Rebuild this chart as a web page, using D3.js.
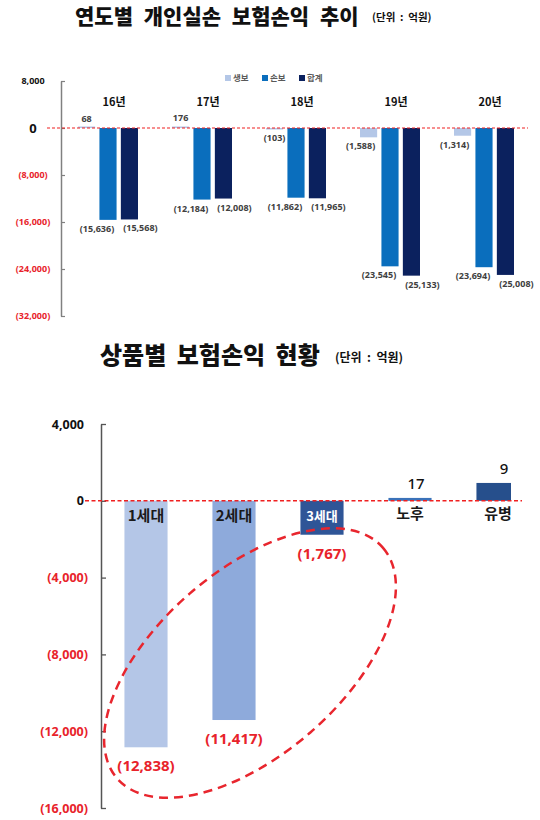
<!DOCTYPE html>
<html>
<head>
<meta charset="utf-8">
<script src="https://cdn.jsdelivr.net/npm/d3@7"></script>
<style>
  html, body { margin: 0; padding: 0; background: #ffffff; }
  svg { display: block; font-family: "Noto Sans CJK KR", "Noto Sans", sans-serif; }
</style>
</head>
<body>
<svg id="chart" width="540" height="820"></svg>
<script>
// ---------- Data: chart 1 (연도별 개인실손 보험손익 추이) ----------
const years = ["16년", "17년", "18년", "19년", "20년"];
const seriesNames = ["생보", "손보", "합계"];
const lifeValues = [68, 176, -103, -1588, -1314];           // 생보
const nonLifeValues = [-15636, -12184, -11862, -23545, -23694]; // 손보
const totalValues = [-15568, -12008, -11965, -25133, -25008];   // 합계
const yearTicks = [8000, 0, -8000, -16000, -24000, -32000];

// ---------- Data: chart 2 (상품별 보험손익 현황) ----------
const products = ["1세대", "2세대", "3세대", "노후", "유병"];
const productValues = [-12838, -11417, -1767, 150, 930];  // bar heights as drawn
const productLabels = ["(12,838)", "(11,417)", "(1,767)", "17", "9"]; // printed labels
const productTicks = [4000, 0, -4000, -8000, -12000, -16000];

const svg = d3.select("#chart");
const fmt = d3.format(",");
const tickText = v => v > 0 ? fmt(v) : (v === 0 ? "0" : "(" + fmt(-v) + ")");
const RED = "#e8232b";

// ================= Chart 1 =================
const seriesColors = ["#b4c7e7", "#0a6ebd", "#0b215e"];
const seriesData = [lifeValues, nonLifeValues, totalValues];

svg.append("text").attr("x", 75).attr("y", 24)
  .attr("font-size", 21).attr("font-weight", 900).attr("fill", "#111")
  .attr("word-spacing", 6)
  .text("연도별 개인실손 보험손익 추이");
svg.append("text").attr("x", 372).attr("y", 21)
  .attr("font-size", 10.5).attr("font-weight", 700).attr("fill", "#111")
  .style("white-space", "pre")
  .text("(단위  :  억원)");

const y1 = d3.scaleLinear().domain([-32000, 8000]).range([316, 81]);
const x1 = d3.scaleBand().domain(years).range([61, 531]);
const xs1 = d3.scaleBand().domain(seriesNames)
  .range([x1.bandwidth() / 2 - 30, x1.bandwidth() / 2 + 30]).paddingInner(0.2);

const g1 = svg.append("g");

// axis
const ax1 = g1.append("g").attr("transform", "translate(61,0)")
  .call(d3.axisLeft(y1).tickValues(yearTicks).tickSizeInner(-4).tickSizeOuter(0).tickFormat(tickText));
ax1.select(".domain").attr("stroke", "#808080").attr("stroke-width", 1.5);
ax1.selectAll(".tick line").attr("stroke", "#808080").attr("stroke-width", 1.2);
ax1.selectAll(".tick text")
  .attr("x", -28).attr("text-anchor", "middle")
  .attr("font-family", "'Noto Sans', sans-serif").attr("font-weight", 700)
  .attr("font-size", d => d === 0 ? 13 : 9)
  .attr("fill", d => d < 0 ? RED : "#111");

// bars
years.forEach((yr, i) => {
  const gx = x1(yr);
  seriesNames.forEach((s, j) => {
    const v = seriesData[j][i];
    const h = Math.max(1.5, Math.abs(y1(v) - y1(0)));
    g1.append("rect")
      .attr("x", gx + xs1(s)).attr("y", v >= 0 ? y1(0) - h : y1(0))
      .attr("width", xs1.bandwidth()).attr("height", h)
      .attr("fill", seriesColors[j]);
    // value label
    const cx = gx + xs1(s) + xs1.bandwidth() / 2;
    const dx = j === 0 ? (v < -1000 ? -8 : 0) : (j === 1 ? -11 : 11);
    g1.append("text")
      .attr("x", cx + dx)
      .attr("y", v >= 0 ? y1(v) - 6 : y1(v) + 12)
      .attr("text-anchor", "middle")
      .attr("font-family", "'Noto Sans', sans-serif").attr("font-weight", 700)
      .attr("font-size", 9).attr("fill", "#404040")
      .text(tickText(v));
  });
  // year label
  g1.append("text")
    .attr("x", gx + x1.bandwidth() / 2 + 6).attr("y", 106)
    .attr("text-anchor", "middle")
    .attr("font-family", "'Noto Sans CJK KR', sans-serif").attr("font-weight", 700)
    .attr("font-size", 11).attr("fill", "#111")
    .text(yr);
});

// zero line
g1.append("line").attr("x1", 47).attr("x2", 528).attr("y1", y1(0)).attr("y2", y1(0))
  .attr("stroke", "#f02020").attr("stroke-width", 1.2).attr("stroke-dasharray", "3,2");

// legend
const lg = g1.append("g").attr("transform", "translate(225,78)");
seriesNames.forEach((s, j) => {
  const gi = lg.append("g").attr("transform", `translate(${j * 37},0)`);
  gi.append("rect").attr("x", 0).attr("y", -3).attr("width", 6).attr("height", 6).attr("fill", seriesColors[j]);
  gi.append("text").attr("x", 8).attr("y", 3).attr("font-size", 8.5).attr("font-weight", 700)
    .attr("fill", "#595959").text(s);
});

// ================= Chart 2 =================
const productColors = ["#b4c6e7", "#8eaadb", "#2f5597", "#3a72b9", "#264f8c"];

svg.append("text").attr("x", 100).attr("y", 364)
  .attr("font-size", 24).attr("font-weight", 900).attr("fill", "#111")
  .attr("word-spacing", 5)
  .text("상품별 보험손익 현황");
svg.append("text").attr("x", 335).attr("y", 362)
  .attr("font-size", 12).attr("font-weight", 700).attr("fill", "#111")
  .style("white-space", "pre")
  .text("(단위  :  억원)");

const y2 = d3.scaleLinear().domain([-16000, 4000]).range([808, 424]);
const x2 = d3.scaleBand().domain(products).range([102, 542]).paddingInner(0.51).paddingOuter(0.255);

const g2 = svg.append("g");
svg.append("defs").append("clipPath").attr("id", "clip2")
  .append("rect").attr("x", 0).attr("y", 0).attr("width", 511).attr("height", 820);

const ax2 = g2.append("g").attr("transform", "translate(101,0)")
  .call(d3.axisLeft(y2).tickValues(productTicks).tickSizeInner(-5).tickSizeOuter(0).tickFormat(tickText));
ax2.select(".domain").attr("stroke", "#555").attr("stroke-width", 1.5);
ax2.selectAll(".tick line").attr("stroke", "#555").attr("stroke-width", 1.3);
ax2.selectAll(".tick text")
  .attr("x", d => d < 0 ? -13 : -17).attr("text-anchor", "end")
  .attr("font-family", "'Noto Sans', sans-serif").attr("font-weight", 700)
  .attr("font-size", 12.5)
  .attr("fill", d => d < 0 ? RED : "#111");

const bars2 = g2.append("g").attr("clip-path", "url(#clip2)");
products.forEach((p, i) => {
  const v = productValues[i];
  const h = Math.abs(y2(v) - y2(0));
  bars2.append("rect")
    .attr("x", x2(p)).attr("y", v >= 0 ? y2(v) : y2(0))
    .attr("width", x2.bandwidth()).attr("height", h)
    .attr("fill", productColors[i]);
  const cx = x2(p) + x2.bandwidth() / 2;
  // category label
  g2.append("text")
    .attr("x", cx).attr("y", y2(0) + (i < 3 ? 20 : 18))
    .attr("text-anchor", "middle")
    .attr("font-family", "'Noto Sans CJK KR', sans-serif").attr("font-weight", 700)
    .attr("font-size", i === 2 ? 13 : 15)
    .attr("fill", i === 2 ? "#ffffff" : "#1a1a1a")
    .text(p);
  // value label
  g2.append("text")
    .attr("x", cx + (v >= 0 ? 6 : 0))
    .attr("y", v >= 0 ? y2(v) - 9 : y2(v) + 24)
    .attr("text-anchor", "middle")
    .attr("font-family", "'Noto Sans', sans-serif").attr("font-weight", v >= 0 ? 500 : 700)
    .attr("font-size", 15)
    .attr("fill", v >= 0 ? "#111" : RED)
    .text(productLabels[i]);
});

// zero line
g2.append("line").attr("x1", 85).attr("x2", 522).attr("y1", y2(0)).attr("y2", y2(0))
  .attr("stroke", "#f02020").attr("stroke-width", 1.5).attr("stroke-dasharray", "4,2.5");

// annotation ellipse around the loss-making generations
const ecx = x2("2세대") + x2.bandwidth() / 2 + 16;
const ecy = y2(-8450);
g2.append("ellipse")
  .attr("cx", 0).attr("cy", 0).attr("rx", 176).attr("ry", 92)
  .attr("transform", `translate(${ecx},${ecy}) rotate(-41)`)
  .attr("fill", "none").attr("stroke", "#e8262e").attr("stroke-width", 2.5)
  .attr("stroke-dasharray", "9,6");
</script>
</body>
</html>
